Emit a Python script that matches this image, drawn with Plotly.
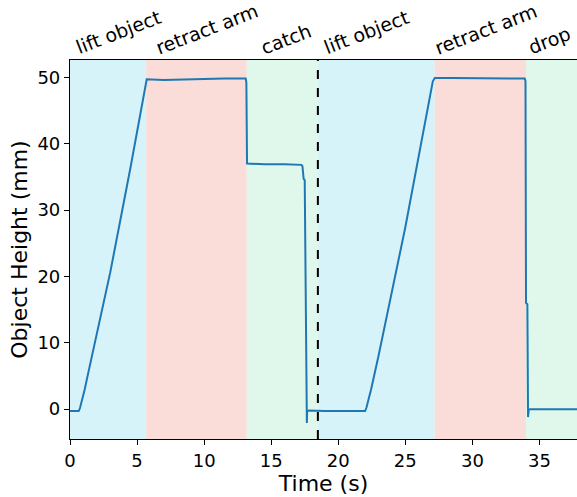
import plotly.graph_objects as go

# phase regions (start, end, label, colour)
phase_starts = [0.0, 5.68, 13.18, 18.48, 27.19, 34.0]
phase_ends = [5.68, 13.18, 18.48, 27.19, 34.0, 37.8]
phase_labels = ["lift object", "retract arm", "catch", "lift object", "retract arm", "drop"]
label_times = [0.0, 5.95, 13.8, 18.5, 26.8, 33.8]
phase_colors = ["#d6f3f9", "#fadcd8", "#e0f8ec", "#d6f3f9", "#fadcd8", "#e0f8ec"]
divider_time = 18.48

# measured trace
time_s = [0.0, 0.3, 0.65, 0.75, 0.85, 0.95, 1.1, 1.3, 3.0, 4.5, 5.55, 5.72, 7.0, 8.5, 10.0,
          11.5, 13.1, 13.15, 13.2, 14.5, 16.0, 17.25, 17.33, 17.42, 17.5, 17.56, 17.62,
          17.64, 17.66, 17.68, 17.7, 17.8, 19.0, 20.5, 22.0, 22.1, 22.2, 22.3, 22.45,
          23.0, 25.0, 27.05, 27.2, 28.5, 30.0, 31.5, 33.0, 33.9, 33.96, 34.0, 34.1,
          34.13, 34.15, 34.17, 34.2, 34.3, 35.5, 37.0, 37.8]
height_mm = [-0.3, -0.3, -0.3, 0.2, 0.9, 1.7, 3.0, 4.9, 20.6, 36.3, 47.6, 49.7, 49.6, 49.7, 49.7,
             49.8, 49.8, 49.2, 37.0, 36.9, 36.9, 36.8, 36.6, 34.7, 34.5, 20.0, 5.0,
             -0.5, -2.1, -0.4, -0.3, -0.2, -0.3, -0.3, -0.3, 0.2, 0.9, 1.7, 3.0,
             8.0, 27.4, 49.4, 49.9, 49.9, 49.9, 49.8, 49.9, 49.8, 49.4, 16.0, 15.8,
             5.0, -1.2, 0.2, -0.1, 0.0, 0.0, 0.0, 0.0]

x_ticks = [0, 5, 10, 15, 20, 25, 30, 35]
y_ticks = [0, 10, 20, 30, 40, 50]

fig = go.Figure()

shapes = []
for s, e, c in zip(phase_starts, phase_ends, phase_colors):
    shapes.append(dict(type="rect", xref="x", yref="paper", x0=s, x1=e, y0=0, y1=1,
                       fillcolor=c, line=dict(width=0), layer="below"))
shapes.append(dict(type="line", xref="x", yref="paper", x0=divider_time, x1=divider_time,
                   y0=0, y1=1, line=dict(color="black", width=2, dash="dash"), layer="above"))

fig.add_trace(go.Scatter(x=time_s, y=height_mm, mode="lines",
                         line=dict(color="#1f77b4", width=2), showlegend=False))

annotations = []
for s, lab in zip(label_times, phase_labels):
    annotations.append(dict(x=s, y=1.0, xref="x", yref="paper", text=lab, showarrow=False,
                            textangle=-21, xanchor="left", yanchor="bottom",
                            yshift=-1, xshift=0,
                            font=dict(family="DejaVu Sans", size=19, color="black")))

fig.update_layout(
    width=577, height=497,
    margin=dict(l=70, r=0, t=60, b=58),
    plot_bgcolor="white", paper_bgcolor="white",
    shapes=shapes, annotations=annotations,
    font=dict(family="DejaVu Sans", size=18, color="black"),
    xaxis=dict(range=[0, 37.8], tickvals=x_ticks, ticks="outside", ticklen=5,
               tickcolor="black", showline=True, linecolor="black", linewidth=1.2,
               mirror=True, showgrid=False, zeroline=False,
               title=dict(text="Time (s)", standoff=2),
               tickfont=dict(size=18)),
    yaxis=dict(range=[-4.5, 52.6], tickvals=y_ticks, ticks="outside", ticklen=5,
               tickcolor="black", showline=True, linecolor="black", linewidth=1.2,
               mirror=True, showgrid=False, zeroline=False,
               title=dict(text="Object Height (mm)", standoff=3),
               tickfont=dict(size=18)),
)

fig.write_html("out.html")
